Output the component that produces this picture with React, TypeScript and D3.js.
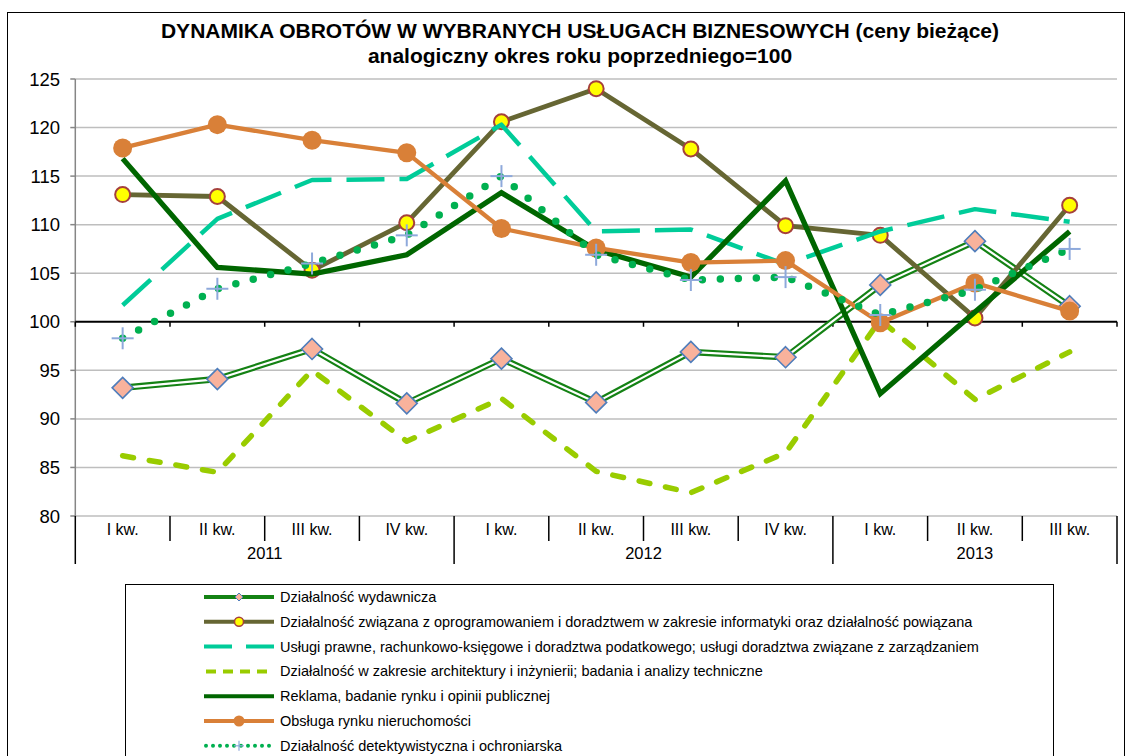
import React from 'react';
import * as d3 from 'd3';

const quarters = ["I kw.", "II kw.", "III kw.", "IV kw.", "I kw.", "II kw.", "III kw.", "IV kw.", "I kw.", "II kw.", "III kw."];
const years = ["2011", "2012", "2013"];
const yearSpans = [4, 4, 3];
const yTicks = [80, 85, 90, 95, 100, 105, 110, 115, 120, 125];

const titleLine1 = "DYNAMIKA OBROTÓW W WYBRANYCH USŁUGACH BIZNESOWYCH (ceny bieżące)";
const titleLine2 = "analogiczny okres roku poprzedniego=100";

const wydawnicza = [93.2, 94.1, 97.2, 91.6, 96.2, 91.7, 96.9, 96.35, 103.8, 108.3, 101.6];
const oprogramowanie = [113.1, 112.9, 105.3, 110.2, 120.6, 124.0, 117.8, 109.9, 108.9, 100.4, 112.0];
const uslugiPrawne = [101.7, 110.6, 114.6, 114.7, 120.3, 109.3, 109.5, 105.9, 109.3, 111.6, 110.3];
const architektura = [86.2, 84.5, 95.0, 87.7, 92.1, 84.6, 82.4, 86.5, 100.2, 92.0, 96.9];
const reklama = [116.8, 105.6, 104.9, 106.9, 113.3, 107.4, 104.6, 114.5, 92.6, 101.0, 109.3];
const nieruchomosci = [117.9, 120.3, 118.7, 117.4, 109.6, 107.6, 106.1, 106.3, 99.9, 104.0, 101.1];
const detektywistyczna = [98.3, 103.4, 106.0, 108.9, 115.0, 106.9, 104.3, 104.6, 100.7, 103.3, 107.5];

const legendNames = [
  "Działalność wydawnicza",
  "Działalność związana z oprogramowaniem i doradztwem w zakresie informatyki oraz działalność powiązana",
  "Usługi prawne, rachunkowo-księgowe i doradztwa podatkowego; usługi doradztwa związane z zarządzaniem",
  "Działalność w zakresie architektury i inżynierii; badania i analizy techniczne",
  "Reklama, badanie rynku i opinii publicznej",
  "Obsługa rynku nieruchomości",
  "Działalność detektywistyczna i ochroniarska",
];

const FONT = "'Liberation Sans', Arial, sans-serif";

const C_WYD = "#148214";
const C_OPR = "#666633";
const C_PRA = "#00CC99";
const C_ARC = "#99CC00";
const C_REK = "#006600";
const C_NIE = "#D98038";
const C_DET = "#00B050";
const C_PLUS = "#8EA9DB";

export default function App() {
  const W = 1129, H = 756;
  const left = 75.3, right = 1117, top = 79, bottom = 516;
  const idx = d3.range(quarters.length);
  const x = d3.scaleBand<number>().domain(idx).range([left, right]);
  const bw = x.bandwidth();
  const cx = (i: number) => (x(i) as number) + bw / 2;
  const y = d3.scaleLinear().domain([80, 125]).range([bottom, top]);
  const line = d3.line<number>().x((_, i) => cx(i)).y((d) => y(d));

  const boundaries = d3.range(quarters.length + 1).map((i) => left + i * bw);
  const yearStarts: number[] = [];
  let acc = 0;
  yearSpans.forEach((s) => { yearStarts.push(acc); acc += s; });
  const yearBoundarySet = new Set([...yearStarts, quarters.length]);

  const diamond = (px: number, py: number, r: number) =>
    `M${px},${py - r}L${px + r},${py}L${px},${py + r}L${px - r},${py}Z`;

  const legendX0 = 204, legendX1 = 274, legendTextX = 280, legendY0 = 597, legendDy = 24.8;
  const lm = (legendX0 + legendX1) / 2;

  return (
    <svg width={W} height={H} style={{ position: 'absolute', left: 0, top: 0, background: '#fff' }} fontFamily={FONT}>
      <rect x={0} y={0} width={W} height={H} fill="#fff" />
      <rect x={7.5} y={12.5} width={1117} height={800} fill="none" stroke="#000" strokeWidth={1} />

      <text x={580} y={38} textAnchor="middle" fontWeight="bold" fontSize={21}>{titleLine1}</text>
      <text x={580} y={63} textAnchor="middle" fontWeight="bold" fontSize={21}>{titleLine2}</text>

      {/* gridlines */}
      {yTicks.filter((t) => t !== 100).map((t) => (
        <line key={t} x1={left} x2={right} y1={y(t)} y2={y(t)} stroke="#BEBEBE" strokeWidth={1.5} />
      ))}
      {/* y axis */}
      <line x1={left} x2={left} y1={top} y2={bottom} stroke="#868686" strokeWidth={1.5} />
      {yTicks.map((t) => (
        <g key={t}>
          <line x1={left - 5} x2={left} y1={y(t)} y2={y(t)} stroke="#868686" strokeWidth={1.5} />
          <text x={60} y={y(t)} textAnchor="end" dominantBaseline="central" fontSize={18.5}>{t}</text>
        </g>
      ))}
      {/* axis crossing at 100 */}
      <line x1={left} x2={right} y1={y(100)} y2={y(100)} stroke="#000" strokeWidth={2} />
      {boundaries.map((bx, i) => (
        <line key={i} x1={bx} x2={bx} y1={y(100)} y2={y(100) + 5} stroke="#000" strokeWidth={1.5} />
      ))}
      {/* category label separators */}
      {boundaries.map((bx, i) => (
        <line key={'s' + i} x1={bx} x2={bx} y1={bottom} y2={yearBoundarySet.has(i) ? 564 : 541} stroke="#000" strokeWidth={1.5} />
      ))}
      {quarters.map((q, i) => (
        <text key={'q' + i} x={cx(i)} y={535} textAnchor="middle" fontSize={16}>{q}</text>
      ))}
      {years.map((yr, k) => (
        <text key={yr} x={left + (yearStarts[k] + yearSpans[k] / 2) * bw} y={559} textAnchor="middle" fontSize={16.5}>{yr}</text>
      ))}

      {/* series 1: wydawnicza (double line) */}
      <path d={line(wydawnicza) as string} fill="none" stroke={C_WYD} strokeWidth={6.5} strokeLinejoin="round" />
      <path d={line(wydawnicza) as string} fill="none" stroke="#fff" strokeWidth={2.2} strokeLinejoin="round" />
      {wydawnicza.map((v, i) => (
        <path key={'d' + i} d={diamond(cx(i), y(v), 10.5)} fill="#F9B29C" stroke="#4F7DBB" strokeWidth={1.6} />
      ))}

      {/* series 2: oprogramowanie */}
      <path d={line(oprogramowanie) as string} fill="none" stroke={C_OPR} strokeWidth={4.8} strokeLinejoin="round" />
      {oprogramowanie.map((v, i) => (
        <circle key={'o' + i} cx={cx(i)} cy={y(v)} r={7.5} fill="#FFFF00" stroke="#A5403C" strokeWidth={2} />
      ))}

      {/* series 3: usługi prawne */}
      <path d={line(uslugiPrawne) as string} fill="none" stroke={C_PRA} strokeWidth={4.5} strokeDasharray="38 15" strokeLinejoin="round" />

      {/* series 4: architektura */}
      <path d={line(architektura) as string} fill="none" stroke={C_ARC} strokeWidth={5.5} strokeDasharray="11 16" strokeLinecap="round" strokeLinejoin="round" />

      {/* series 5: reklama */}
      <path d={line(reklama) as string} fill="none" stroke={C_REK} strokeWidth={5.3} strokeLinejoin="miter" />

      {/* series 6: nieruchomości */}
      <path d={line(nieruchomosci) as string} fill="none" stroke={C_NIE} strokeWidth={4.3} strokeLinejoin="round" />
      {nieruchomosci.map((v, i) => (
        <circle key={'n' + i} cx={cx(i)} cy={y(v)} r={9.5} fill={C_NIE} />
      ))}

      {/* series 7: detektywistyczna */}
      <path d={line(detektywistyczna) as string} fill="none" stroke={C_DET} strokeWidth={7.5} strokeDasharray="0 18" strokeLinecap="round" />
      {detektywistyczna.map((v, i) => (
        <g key={'p' + i} stroke={C_PLUS} strokeWidth={2}>
          <line x1={cx(i) - 11} x2={cx(i) + 11} y1={y(v)} y2={y(v)} />
          <line x1={cx(i)} x2={cx(i)} y1={y(v) - 11} y2={y(v) + 11} />
        </g>
      ))}

      {/* legend */}
      <rect x={125.5} y={584.5} width={928} height={220} fill="#fff" stroke="#000" strokeWidth={1} />
      {legendNames.map((name, k) => {
        const ly = legendY0 + k * legendDy;
        let sample: React.ReactNode = null;
        if (k === 0) {
          sample = (<g>
            <line x1={legendX0} x2={legendX1} y1={ly} y2={ly} stroke={C_WYD} strokeWidth={4} />
            <path d={diamond(lm, ly, 4)} fill="#F9B29C" stroke="#4F7DBB" strokeWidth={1} />
          </g>);
        } else if (k === 1) {
          sample = (<g>
            <line x1={legendX0} x2={legendX1} y1={ly} y2={ly} stroke={C_OPR} strokeWidth={4} />
            <circle cx={lm} cy={ly} r={4.5} fill="#FFFF00" stroke="#A5403C" strokeWidth={1.5} />
          </g>);
        } else if (k === 2) {
          sample = <line x1={legendX0} x2={legendX1} y1={ly} y2={ly} stroke={C_PRA} strokeWidth={4} strokeDasharray="28 14" />;
        } else if (k === 3) {
          sample = <line x1={legendX0 + 2} x2={legendX1} y1={ly} y2={ly} stroke={C_ARC} strokeWidth={4} strokeDasharray="10 7" />;
        } else if (k === 4) {
          sample = <line x1={legendX0} x2={legendX1} y1={ly} y2={ly} stroke={C_REK} strokeWidth={4} />;
        } else if (k === 5) {
          sample = (<g>
            <line x1={legendX0} x2={legendX1} y1={ly} y2={ly} stroke={C_NIE} strokeWidth={4} />
            <circle cx={lm} cy={ly} r={5.5} fill={C_NIE} />
          </g>);
        } else {
          sample = (<g>
            <line x1={legendX0 + 2} x2={legendX1} y1={ly} y2={ly} stroke={C_DET} strokeWidth={4} strokeDasharray="0 7" strokeLinecap="round" />
            <line x1={lm - 5} x2={lm + 5} y1={ly} y2={ly} stroke={C_PLUS} strokeWidth={1.2} />
            <line x1={lm} x2={lm} y1={ly - 5} y2={ly + 5} stroke={C_PLUS} strokeWidth={1.2} />
          </g>);
        }
        return (
          <g key={'l' + k}>
            {sample}
            <text x={legendTextX} y={ly} dominantBaseline="central" fontSize={14.5}>{name}</text>
          </g>
        );
      })}
    </svg>
  );
}
